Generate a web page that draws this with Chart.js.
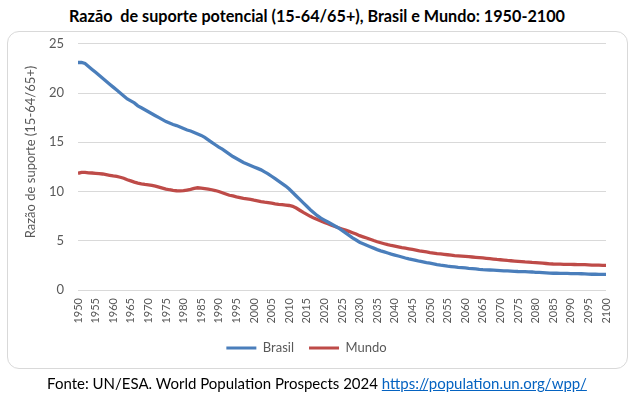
<!DOCTYPE html>
<html>
<head>
<meta charset="utf-8">
<script src="https://cdn.jsdelivr.net/npm/chart.js@4.4.1/dist/chart.umd.min.js"></script>
<style>
  html, body { margin: 0; padding: 0; background: #ffffff; }
  body { width: 634px; height: 396px; position: relative; overflow: hidden; font-family: Lato, "Liberation Sans", sans-serif; }
  #title { position: absolute; left: 0; top: 6px; width: 634px; text-align: center; font-weight: bold; font-size: 16.2px; line-height: 20px; color: #000; }
  #box { position: absolute; left: 7px; top: 31px; width: 621px; height: 338px; box-sizing: border-box; border: 1px solid #d9d9d9; border-radius: 12px; }
  #wrap { position: absolute; left: 7px; top: 22px; width: 621px; height: 357px; }
  #footer { position: absolute; left: 0; top: 373px; width: 634px; text-align: center; font-size: 15px; line-height: 20px; color: #000; }
  #footer a { color: #0563C1; text-decoration: underline; }
</style>
</head>
<body>
<div id="title">Razão&nbsp; de suporte potencial (15-64/65+), Brasil e Mundo: 1950-2100</div>
<div id="box"></div>
<div id="wrap"><canvas id="c" width="621" height="357"></canvas></div>
<div id="footer">Fonte: UN/ESA. World Population Prospects 2024 <a href="https://population.un.org/wpp/">https://population.un.org/wpp/</a></div>
<script>
const years = [
  1950,1951,1952,1953,1954,1955,1956,1957,1958,1959,
  1960,1961,1962,1963,1964,1965,1966,1967,1968,1969,
  1970,1971,1972,1973,1974,1975,1976,1977,1978,1979,
  1980,1981,1982,1983,1984,1985,1986,1987,1988,1989,
  1990,1991,1992,1993,1994,1995,1996,1997,1998,1999,
  2000,2001,2002,2003,2004,2005,2006,2007,2008,2009,
  2010,2011,2012,2013,2014,2015,2016,2017,2018,2019,
  2020,2021,2022,2023,2024,2025,2026,2027,2028,2029,
  2030,2031,2032,2033,2034,2035,2036,2037,2038,2039,
  2040,2041,2042,2043,2044,2045,2046,2047,2048,2049,
  2050,2051,2052,2053,2054,2055,2056,2057,2058,2059,
  2060,2061,2062,2063,2064,2065,2066,2067,2068,2069,
  2070,2071,2072,2073,2074,2075,2076,2077,2078,2079,
  2080,2081,2082,2083,2084,2085,2086,2087,2088,2089,
  2090,2091,2092,2093,2094,2095,2096,2097,2098,2099,
  2100
];
const brasil = [
  23.1,23.1,23.0,22.7,22.4,22.1,21.8,21.5,21.2,20.9,
  20.6,20.3,20.0,19.7,19.4,19.2,19.0,18.7,18.5,18.3,
  18.1,17.9,17.7,17.5,17.3,17.1,16.95,16.8,16.7,16.55,
  16.4,16.25,16.15,16.0,15.85,15.7,15.5,15.25,15.0,14.75,
  14.5,14.3,14.05,13.8,13.55,13.35,13.15,12.95,12.8,12.65,
  12.5,12.35,12.2,12.0,11.8,11.55,11.3,11.05,10.8,10.55,
  10.25,9.9,9.55,9.2,8.85,8.5,8.15,7.85,7.55,7.3,
  7.1,6.9,6.7,6.5,6.3,6.05,5.8,5.55,5.3,5.08,
  4.85,4.7,4.55,4.4,4.25,4.1,3.98,3.87,3.76,3.65,
  3.55,3.45,3.35,3.25,3.16,3.08,3.0,2.92,2.85,2.78,
  2.72,2.65,2.58,2.52,2.47,2.42,2.38,2.34,2.3,2.27,
  2.24,2.2,2.17,2.14,2.1,2.07,2.05,2.03,2.01,1.99,
  1.97,1.95,1.94,1.92,1.9,1.88,1.87,1.86,1.85,1.83,
  1.8,1.78,1.76,1.74,1.72,1.7,1.7,1.69,1.68,1.68,
  1.67,1.66,1.66,1.65,1.64,1.62,1.6,1.6,1.59,1.59,
  1.59
];
const mundo = [
  11.85,11.95,11.95,11.9,11.88,11.85,11.82,11.78,11.72,11.65,
  11.58,11.53,11.45,11.35,11.2,11.08,10.95,10.85,10.78,10.72,
  10.68,10.62,10.55,10.45,10.35,10.25,10.18,10.12,10.08,10.06,
  10.08,10.15,10.22,10.32,10.38,10.35,10.3,10.25,10.18,10.1,
  10.0,9.88,9.75,9.62,9.55,9.45,9.38,9.3,9.25,9.2,
  9.12,9.05,8.98,8.92,8.88,8.82,8.75,8.7,8.66,8.62,
  8.58,8.5,8.32,8.1,7.88,7.68,7.48,7.3,7.15,7.0,
  6.85,6.72,6.58,6.45,6.32,6.2,6.08,5.95,5.82,5.68,
  5.52,5.4,5.28,5.15,5.02,4.9,4.8,4.7,4.6,4.52,
  4.45,4.38,4.3,4.24,4.18,4.12,4.05,3.98,3.92,3.86,
  3.8,3.75,3.7,3.66,3.62,3.58,3.54,3.5,3.47,3.44,
  3.41,3.38,3.35,3.32,3.29,3.26,3.22,3.18,3.14,3.1,
  3.07,3.04,3.0,2.97,2.94,2.91,2.88,2.85,2.83,2.8,
  2.78,2.75,2.72,2.69,2.66,2.64,2.63,2.62,2.61,2.6,
  2.6,2.59,2.58,2.58,2.57,2.55,2.53,2.52,2.52,2.51,
  2.51
];
const seriesNames = ["Brasil", "Mundo"];
const yAxisTitle = "Razão de suporte (15-64/65+)";

const toXY = arr => arr.map((v, i) => ({ x: years[i], y: v }));

const yTitlePlugin = {
  id: 'yTitle',
  afterDraw(chart) {
    const ctx = chart.ctx;
    ctx.save();
    ctx.translate(24, 130);
    ctx.rotate(-Math.PI / 2);
    ctx.font = '13px Lato, "Liberation Sans", sans-serif';
    ctx.fillStyle = '#595959';
    ctx.textAlign = 'center';
    ctx.textBaseline = 'middle';
    ctx.fillText(yAxisTitle, 0, 0);
    ctx.restore();
  }
};

new Chart(document.getElementById('c'), {
  type: 'line',
  data: {
    datasets: [
      { label: seriesNames[0], data: toXY(brasil), borderColor: '#4a7ebb', backgroundColor: '#4a7ebb', borderWidth: 3.3, pointRadius: 0, tension: 0 },
      { label: seriesNames[1], data: toXY(mundo), borderColor: '#be4b48', backgroundColor: '#be4b48', borderWidth: 3.3, pointRadius: 0, tension: 0 }
    ]
  },
  options: {
    responsive: false,
    animation: false,
    layout: { padding: { left: 0, right: 22, top: 3, bottom: 14.5 } },
    scales: {
      x: {
        type: 'linear',
        min: 1950, max: 2100,
        grid: { display: false, drawTicks: false },
        border: { display: false },
        ticks: {
          stepSize: 5, autoSkip: false, minRotation: 90, maxRotation: 90, padding: 8,
          color: '#595959', font: { family: 'Lato, "Liberation Sans", sans-serif', size: 11 },
          callback: v => String(v)
        },
        afterFit: s => { s.height = 36.5; }
      },
      y: {
        min: 0, max: 25,
        grid: { color: '#d9d9d9', lineWidth: 1, drawTicks: false },
        border: { display: false },
        ticks: {
          stepSize: 5, padding: 14, color: '#595959',
          font: { family: 'Lato, "Liberation Sans", sans-serif', size: 13 }
        },
        afterFit: s => { s.width = 71; }
      }
    },
    plugins: {
      legend: {
        position: 'bottom',
        labels: {
          boxWidth: 30, boxHeight: 3, padding: 15, color: '#595959',
          font: { family: 'Lato, "Liberation Sans", sans-serif', size: 13 },
          generateLabels: chart => Chart.defaults.plugins.legend.labels.generateLabels(chart).map(l => Object.assign(l, { lineWidth: 0 }))
        }
      },
      tooltip: { enabled: false },
      title: { display: false }
    }
  },
  plugins: [yTitlePlugin]
});
</script>
</body>
</html>
